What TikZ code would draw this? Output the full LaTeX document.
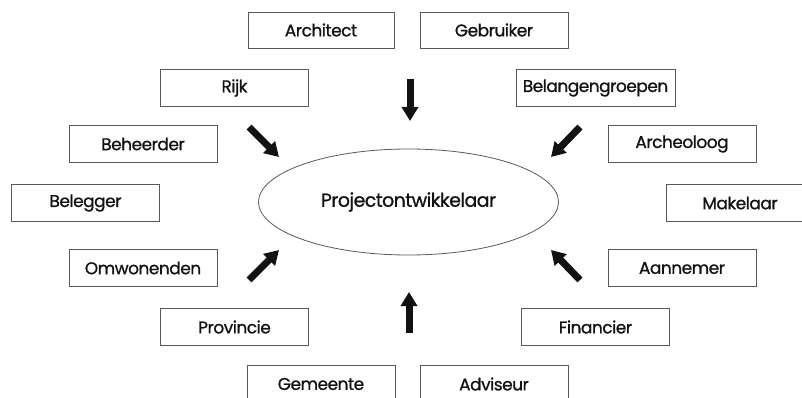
\documentclass[tikz,border=0pt]{standalone}
\usepackage{fontspec}
\setmainfont{Poppins}[FakeBold=0.9, LetterSpace=-3]
\usetikzlibrary{arrows.meta,shapes.geometric}
\definecolor{frame}{gray}{0.35}
\definecolor{ink}{gray}{0.07}
\tikzset{
  party/.style={draw=frame, line width=0.8pt, minimum width=148pt, minimum height=37pt,
    inner sep=0pt, font=\fontsize{17}{17}\selectfont, text=ink},
  core/.style={draw=frame, line width=0.8pt, ellipse, minimum width=300pt, minimum height=106pt,
    inner sep=0pt, font=\fontsize{19}{19}\selectfont, text=ink},
  push/.style={draw=ink, line width=7pt, -{Triangle[width=16pt,length=14pt]}}
}
\begin{document}
\begin{tikzpicture}[x=1pt,y=-1pt]
  \useasboundingbox (0,0) rectangle (802,398);
  % central actor
  \node[core] (pd) at (408.5,202) {Projectontwikkelaar};
  % surrounding parties
  \node[party, minimum width=146pt, minimum height=36pt] (architect) at (321,30) {Architect};
  \node[party, minimum height=36pt] (gebruiker) at (494,30) {Gebruiker};
  \node[party] (rijk) at (234.5,88) {Rijk};
  \node[party, minimum width=159pt] (belang) at (595.5,88) {Belangengroepen};
  \node[party] (beheerder) at (143,144) {Beheerder};
  \node[party] (archeoloog) at (682,144) {Archeoloog};
  \node[party] (belegger) at (85.5,203) {Belegger};
  \node[party] (makelaar) at (740,203) {Makelaar};
  \node[party] (omwonenden) at (143,268) {Omwonenden};
  \node[party] (aannemer) at (682,268) {Aannemer};
  \node[party] (provincie) at (234.5,327) {Provincie};
  \node[party] (financier) at (595.5,327) {Financier};
  \node[party, minimum height=38pt] (gemeente) at (321,384) {Gemeente};
  \node[party, minimum height=38pt] (adviseur) at (494,384) {Adviseur};
  % arrow end points
  \coordinate (nT) at (410,79);   \coordinate (nH) at (410,121);
  \coordinate (sT) at (409,333);  \coordinate (sH) at (409,292);
  \coordinate (nwT) at (249,127); \coordinate (nwH) at (279,157);
  \coordinate (swT) at (249,280); \coordinate (swH) at (279,250);
  \coordinate (neT) at (580,127); \coordinate (neH) at (551,157);
  \coordinate (seT) at (580,280); \coordinate (seH) at (551,250);
  % influence arrows
  \draw[push] (nT) -- (nH);
  \draw[push] (sT) -- (sH);
  \draw[push] (nwT) -- (nwH);
  \draw[push] (swT) -- (swH);
  \draw[push] (neT) -- (neH);
  \draw[push] (seT) -- (seH);
\end{tikzpicture}
\end{document}
